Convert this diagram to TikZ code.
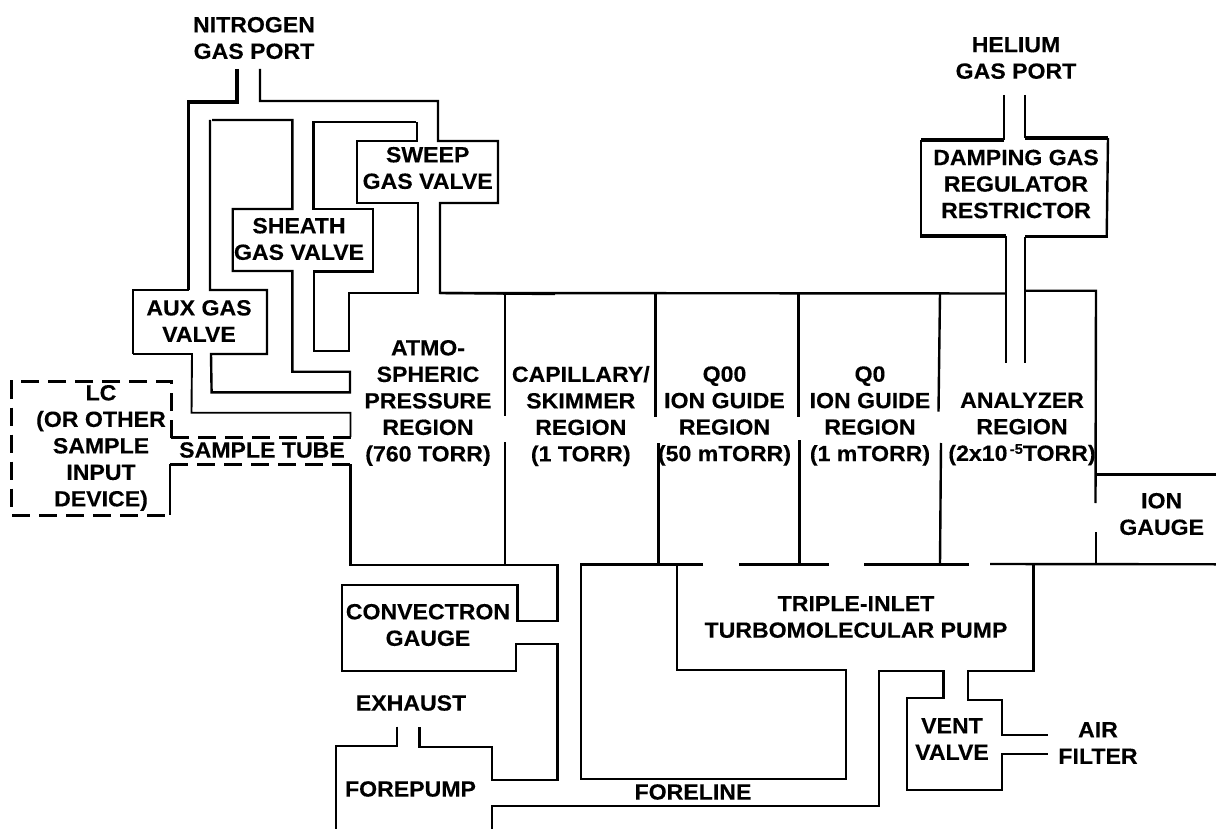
\documentclass[tikz,border=0pt]{standalone}
\usepackage{fontspec}
\setmainfont{Liberation Sans}[BoldFeatures={FakeBold=0.25,FakeStretch=1.05}]
\tikzset{
  wall/.style={line width=2.4pt,line join=miter,line cap=butt},
  heavy/.style={line width=3.6pt,line join=miter,line cap=butt},
  medium/.style={line width=2.9pt,line join=miter,line cap=butt},
  thinw/.style={line width=1.9pt,line join=miter,line cap=butt},
  dashline/.style={line width=3pt,dash pattern=on 18pt off 9pt},
  lbl/.style={align=center,inner sep=0pt,font=\fontsize{22}{26.5}\selectfont\bfseries}
}
\begin{document}
\begin{tikzpicture}[x=1pt,y=-1pt]
\useasboundingbox (0,0) rectangle (1216,829);
% gas supply
\draw[heavy] (237,69) -- (237,102) -- (188.5,102) -- (188.5,290);
\draw[medium] (188.5,290) -- (133,290) -- (133,354);
\draw[thinw] (133,354) -- (192,354) -- (191.5,412.7) -- (350.5,412.7) -- (350.5,437);
\draw[wall] (260,69) -- (260,101) -- (438,101) -- (438,141) -- (498,141) -- (498,203) -- (440,203) -- (440,293) -- (555,294);
\draw[wall] (212,120) -- (292.3,120) -- (292.3,209) -- (232.7,209) -- (232.7,271) -- (292.3,271) -- (292.3,371.7) -- (350,371.7) -- (350,392.3) -- (211.6,392.3) -- (211,354) -- (267,354) -- (267,290) -- (210,290) -- (210,120);
\draw[wall] (416,122) -- (313.5,122) -- (313.5,209) -- (372.7,209) -- (372.7,271.7) -- (314,271.7) -- (314,350.7) -- (348.7,350.7) -- (348.7,292.7) -- (417.7,292.7) -- (417.7,203.3) -- (357,203.3) -- (357,141) -- (416.7,141) -- (416.7,122);
% LC and sample tube
\draw[dashline] (171,438) -- (171,381) -- (11.5,381) -- (11.5,515) -- (170,515);
\draw[wall] (170,515) -- (170,464);
\draw[dashline] (171,437) -- (350.5,437);
\draw[dashline] (170,464) -- (350.5,464);
% main chamber
\draw[wall] (350.5,464) -- (350.5,565) -- (557.5,565) -- (557.5,620.7) -- (517.4,620.7) -- (517.4,585) -- (341.8,585) -- (341.8,670.7) -- (516,670.7) -- (516,644) -- (557.3,644) -- (557.3,780) -- (492,780) -- (492,746.7) -- (419.5,746.7) -- (419.5,726.7);
\draw[wall] (397,726.7) -- (397,745.7) -- (335.7,745.7) -- (335.7,829);
\draw[wall] (492,829) -- (492,806) -- (878.8,806) -- (878.8,670.7) -- (943.5,670.7) -- (943.5,698) -- (907,698) -- (907,790) -- (1002,790) -- (1002,754) -- (1047.8,754);
\draw[wall] (1047.8,735) -- (1002,735) -- (1002,700) -- (967.7,700) -- (967.7,670.7) -- (1033.5,670.7) -- (1033.5,564.5);
\draw[wall] (703,564.3) -- (581,564.3) -- (581,779) -- (846,779) -- (846,670) -- (676.7,670) -- (676.7,564.3);
\draw[wall] (739,564.5) -- (829.4,564.5);
\draw[wall] (864,564.5) -- (969.4,564.5);
\draw[wall] (990,564) -- (1216,564.3);
% top line and walls
\draw[wall] (440,293) -- (1006,293.5);
\draw[wall] (1025,290.7) -- (1096,290.7) -- (1095.5,503);
\draw[wall] (1096,532) -- (1096,564.3);
\draw[wall] (1095.5,474.3) -- (1216,474.3);
\draw[wall] (504.7,294) -- (504.7,416);
\draw[wall] (504.7,442.3) -- (504.7,565);
\draw[wall] (655.3,294) -- (655.3,416.7);
\draw[wall] (658.3,443) -- (658.3,564);
\draw[wall] (798.3,294) -- (798.3,417);
\draw[wall] (799.3,440) -- (799.3,564);
\draw[wall] (940,293) -- (938.5,411.7);
\draw[wall] (941,443) -- (940,564);
% helium
\draw[medium] (1004,95) -- (1004,140);
\draw[heavy] (1004,140) -- (920.7,140);
\draw[wall] (920.7,140) -- (920.7,236);
\draw[heavy] (920,236) -- (1006,236);
\draw[medium] (1006,236) -- (1006,362.7);
\draw[wall] (1025,95) -- (1025,138);
\draw[heavy] (1025,138) -- (1108,138);
\draw[wall] (1108,138) -- (1106.7,236.7);
\draw[heavy] (1108,236.7) -- (1025,236.7);
\draw[medium] (1025,236.7) -- (1025,363);
% labels
\node[lbl] (nitrogen) at (254,38) {NITROGEN\\GAS PORT};
\node[lbl] (helium) at (1016,58) {HELIUM\\GAS PORT};
\node[lbl] (damping) at (1016,184) {DAMPING GAS\\REGULATOR\\RESTRICTOR};
\node[lbl] (sweep) at (427.7,168) {SWEEP\\GAS VALVE};
\node[lbl] (sheath) at (299,239) {SHEATH\\GAS VALVE};
\node[lbl] (aux) at (199,321) {AUX GAS\\VALVE};
\node[lbl] (atmo) at (428,403) {ATMO-\\SPHERIC\\PRESSURE\\REGION\\(760 TORR)};
\node[lbl] (lc) at (101,448) {LC\\(OR OTHER\\SAMPLE\\INPUT\\DEVICE)};
\node[lbl] (tube) at (262,450) {SAMPLE TUBE};
\node[lbl] (conv) at (428,625) {CONVECTRON\\GAUGE};
\node[lbl] (exhaust) at (411,703) {EXHAUST};
\node[lbl] (fore) at (410.5,789) {FOREPUMP};
\node[lbl] (foreline) at (693,792) {FORELINE};
\node[lbl] (triple) at (856,617) {TRIPLE-INLET\\TURBOMOLECULAR PUMP};
\node[lbl] (vent) at (952,739) {VENT\\VALVE};
\node[lbl] (air) at (1098,743) {AIR\\FILTER};
\node[lbl] (ion) at (1161.7,514) {ION\\GAUGE};
\node[lbl] (cap) at (580.8,416) {CAPILLARY/\\SKIMMER\\REGION\\(1 TORR)};
\node[lbl] (q00) at (724.5,416) {Q00\\ION GUIDE\\REGION\\(50 mTORR)};
\node[lbl] (q0) at (870,416) {Q0\\ION GUIDE\\REGION\\(1 mTORR)};
\node[lbl] (ana) at (1022,429) {ANALYZER\\REGION\\(2x10\raisebox{0.6ex}{\fontsize{14}{14}\selectfont\,-5}TORR)};
\end{tikzpicture}
\end{document}
